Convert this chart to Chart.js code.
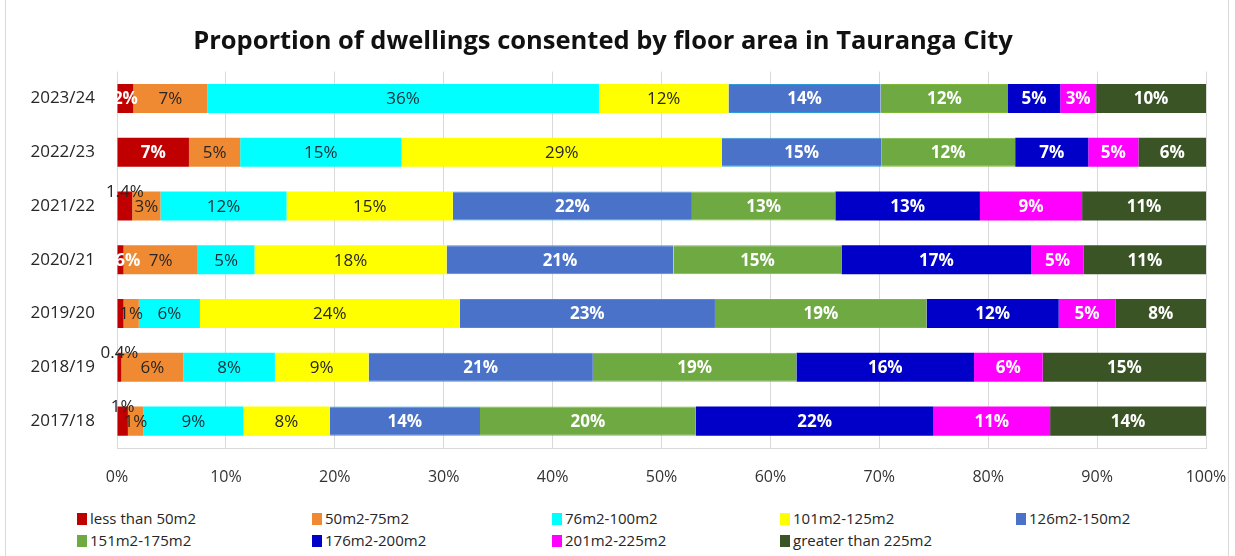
<!DOCTYPE html>
<html>
<head>
<meta charset="utf-8">
<script src="https://cdn.jsdelivr.net/npm/chart.js@4.4.0/dist/chart.umd.min.js"></script>
<style>
  body { margin: 0; background: #fff; font-family: "Open Sans", sans-serif; }
  #frame { position: absolute; left: 5px; top: -2px; width: 1222px; height: 560px; border: 1px solid #d9d9d9; }
  #wrap { position: absolute; left: 0; top: 0; width: 1235px; height: 500px; }
  #legend { position: absolute; left: 0; top: 507px; width: 1235px; height: 48px; }
  .item { position: absolute; font-size: 15px; color: #262626; line-height: 20px; white-space: nowrap; }
  .item span { display: inline-block; width: 10px; height: 12px; margin-right: 3px; vertical-align: -1px; }
</style>
</head>
<body>
<div id="frame"></div>
<div id="wrap"><canvas id="floorChart" width="1235" height="500"></canvas></div>
<div id="legend"></div>
<script>
const years = ['2023/24', '2022/23', '2021/22', '2020/21', '2019/20', '2018/19', '2017/18'];

// percent of dwellings consented, per year (top to bottom)
const lessThan50 = [1.5, 6.6, 1.4, 0.6, 0.6, 0.4, 1.0];
const from50to75 = [6.8, 4.7, 2.6, 6.8, 1.4, 5.7, 1.4];
const from76to100 = [36.0, 14.8, 11.6, 5.2, 5.6, 8.4, 9.2];
const from101to125 = [11.9, 29.4, 15.3, 17.6, 23.8, 8.6, 7.9];
const from126to150 = [14.0, 14.6, 22.0, 20.8, 23.4, 20.6, 13.8];
const from151to175 = [11.7, 12.3, 13.2, 15.4, 19.4, 18.7, 19.8];
const from176to200 = [4.8, 6.7, 13.3, 17.4, 12.1, 16.3, 21.8];
const from201to225 = [3.3, 4.6, 9.4, 4.8, 5.2, 6.3, 10.7];
const over225 = [10.1, 6.2, 11.4, 11.2, 8.3, 15.0, 14.3];

const xTicks = [0, 10, 20, 30, 40, 50, 60, 70, 80, 90, 100];

const series = [
    { label: 'less than 50m2', values: lessThan50, color: '#C00000', text: '#fff', bold: true },
    { label: '50m2-75m2', values: from50to75, color: '#F08A32', text: '#262626', bold: false },
    { label: '76m2-100m2', values: from76to100, color: '#00FFFF', text: '#1d2b36', bold: false },
    { label: '101m2-125m2', values: from101to125, color: '#FFFF00', text: '#262626', bold: false },
    { label: '126m2-150m2', values: from126to150, color: '#4A72C8', text: '#fff', bold: true, edge: '#2A9AD8' },
    { label: '151m2-175m2', values: from151to175, color: '#6EA942', text: '#fff', bold: true, edge: '#7DB833' },
    { label: '176m2-200m2', values: from176to200, color: '#0000C8', text: '#fff', bold: true },
    { label: '201m2-225m2', values: from201to225, color: '#FF00FF', text: '#fff', bold: true },
    { label: 'greater than 225m2', values: over225, color: '#3A5426', text: '#fff', bold: true }
];

// where the tiny "less than 50m2" labels sit in the original
const redLabelPlacement = { '2021/22': 'above', '2018/19': 'above', '2017/18': 'above', '2019/20': 'none' };

const rowTotals = years.map((y, i) => series.reduce((s, d) => s + d.values[i], 0));

function labelText(v, seriesIndex) {
    if (seriesIndex === 0 && v < 1.5 && !Number.isInteger(v)) return v.toFixed(1) + '%';
    return Math.round(v) + '%';
}

const segmentLabels = {
    id: 'segmentLabels',
    afterDatasetsDraw(chart) {
        const ctx = chart.ctx;
        ctx.save();
        ctx.textAlign = 'center';
        ctx.textBaseline = 'middle';
        chart.data.datasets.forEach((ds, i) => {
            const meta = chart.getDatasetMeta(i);
            meta.data.forEach((bar, j) => {
                const v = ds.rawValues[j];
                let color = series[i].text;
                let weight = series[i].bold ? 'bold' : 'normal';
                let y = bar.y;
                if (i === 0) {
                    const place = redLabelPlacement[years[j]];
                    if (place === 'none') return;
                    if (place === 'above') { y -= 15; color = '#262626'; weight = 'normal'; }
                }
                ctx.font = weight + ' 17px "Open Sans", sans-serif';
                ctx.fillStyle = color;
                ctx.fillText(labelText(v, i), (bar.x + bar.base) / 2, y + 1);
            });
        });
        ctx.restore();
    }
};

const ctx = document.getElementById('floorChart').getContext('2d');

new Chart(ctx, {
    type: 'bar',
    data: {
        labels: years,
        datasets: series.map(s => ({
            label: s.label,
            data: s.values.map((v, i) => v / rowTotals[i] * 100),
            rawValues: s.values,
            backgroundColor: s.color,
            borderColor: s.edge || s.color,
            borderWidth: s.edge ? { top: 1, bottom: 1, left: 0, right: 0 } : 0,
            borderSkipped: false,
            barPercentage: 0.54,
            categoryPercentage: 1
        }))
    },
    options: {
        indexAxis: 'y',
        responsive: false,
        animation: false,
        layout: { padding: { left: 0, right: 29, top: 0, bottom: 0 } },
        scales: {
            x: {
                stacked: true,
                min: 0,
                max: 100,
                afterBuildTicks: axis => { axis.ticks = xTicks.map(v => ({ value: v })); },
                afterFit: axis => {
                    axis.height = 52;
                    axis.paddingLeft = 0;
                    axis.paddingRight = 0;
                },
                grid: { color: '#d9d9d9', drawTicks: false },
                border: { display: true, color: '#d9d9d9' },
                ticks: {
                    padding: 20,
                    color: '#333',
                    font: { family: 'Open Sans', size: 16 },
                    callback: v => v + '%'
                }
            },
            y: {
                stacked: true,
                afterFit: axis => { axis.width = 117; },
                grid: { display: false },
                border: { display: false },
                ticks: {
                    padding: 14,
                    color: '#262626',
                    font: { family: 'Open Sans', size: 17 }
                }
            }
        },
        plugins: {
            legend: { display: false },
            tooltip: { enabled: false },
            title: {
                display: true,
                text: 'Proportion of dwellings consented by floor area in Tauranga City',
                color: '#111',
                font: { family: 'Open Sans', size: 25.5, weight: 'bold' },
                padding: { top: 26, bottom: 15 }
            }
        }
    },
    plugins: [segmentLabels]
});

// legend in five fixed columns like the original
const legend = document.getElementById('legend');
const colX = [77, 312, 552, 780, 1016];
series.forEach((s, i) => {
    const el = document.createElement('div');
    el.className = 'item';
    el.style.left = colX[i % 5] + 'px';
    el.style.top = (i < 5 ? 1 : 23) + 'px';
    el.innerHTML = '<span style="background:' + s.color + '"></span>' + s.label;
    legend.appendChild(el);
});
</script>
</body>
</html>
